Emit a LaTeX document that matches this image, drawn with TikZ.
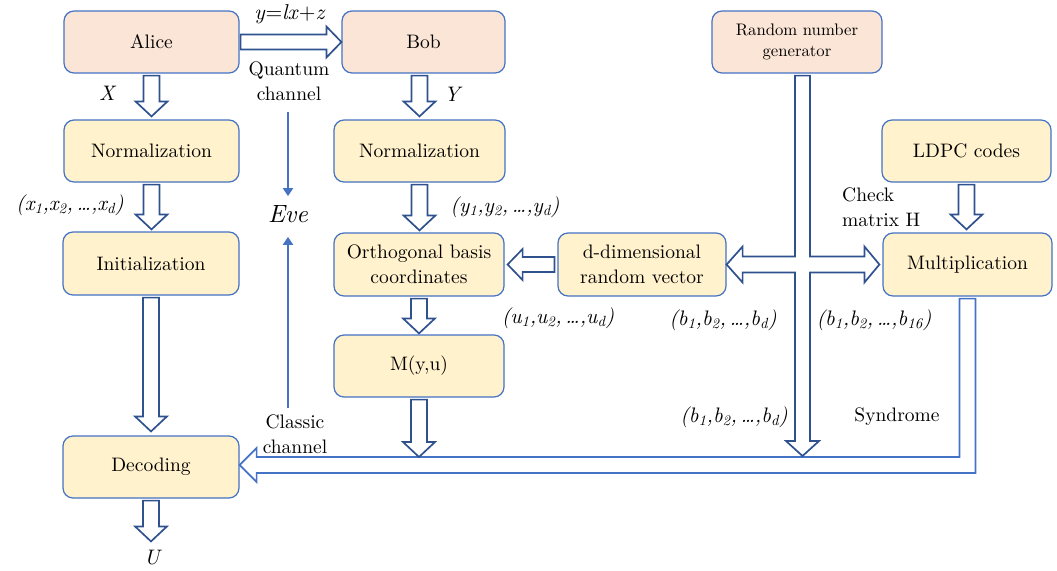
\documentclass[tikz,border=0pt]{standalone}
\usepackage{fontspec}
\setmainfont{lmroman10-regular.otf}[ItalicFont=lmroman10-italic.otf,
  BoldFont=lmroman10-bold.otf, BoldItalicFont=lmroman10-bolditalic.otf]
\usetikzlibrary{calc,arrows.meta}

\definecolor{pinkfill}{HTML}{FBE5D6}
\definecolor{creamfill}{HTML}{FFF2CC}
\definecolor{edgeblue}{HTML}{4472C4}
\definecolor{darkblue}{HTML}{2F528F}

\tikzset{
  box/.style={draw=edgeblue, line width=1.2pt, rounded corners=10pt, align=center,
              inner sep=2pt, font=\fontsize{19.5}{25}\selectfont},
  party/.style={box, fill=pinkfill},
  stage/.style={box, fill=creamfill},
  hollow/.style={draw=darkblue, line width=1.7pt, fill=white, line join=miter},
  channel/.style={draw=edgeblue, line width=1.7pt, fill=white, line join=miter},
  thinarrow/.style={draw=edgeblue, line width=2.6pt, -{Triangle[length=8pt,width=10pt]}},
  lbl/.style={font=\fontsize{19.5}{25}\selectfont, inner sep=0pt},
  mlbl/.style={font=\itshape\fontsize{21}{25}\selectfont, inner sep=0pt},
}

% hollow block arrow pointing down: shaft from #1, tip at the height of #2
\newcommand{\vhollow}[2]{%
  \draw[hollow] let \p1=#1, \p2=#2 in
    (\x1-8pt,\y1) -- (\x1+8pt,\y1) -- (\x1+8pt,\y2+15pt) -- (\x1+16pt,\y2+15pt)
    -- (\x1,\y2) -- (\x1-16pt,\y2+15pt) -- (\x1-8pt,\y2+15pt) -- cycle;}
% hollow block arrow pointing right: shaft from #1, tip at #2
\newcommand{\rhollow}[2]{%
  \draw[hollow] let \p1=#1, \p2=#2 in
    (\x1,\y1+7.5pt) -- (\x2-15pt,\y1+7.5pt) -- (\x2-15pt,\y1+15.5pt) -- (\x2,\y1)
    -- (\x2-15pt,\y1-15.5pt) -- (\x2-15pt,\y1-7.5pt) -- (\x1,\y1-7.5pt) -- cycle;}
% hollow block arrow pointing left: shaft from #1, tip at #2
\newcommand{\lhollow}[2]{%
  \draw[hollow] let \p1=#1, \p2=#2 in
    (\x1,\y1+7.5pt) -- (\x2+15pt,\y1+7.5pt) -- (\x2+15pt,\y1+15.5pt) -- (\x2,\y1)
    -- (\x2+15pt,\y1-15.5pt) -- (\x2+15pt,\y1-7.5pt) -- (\x1,\y1-7.5pt) -- cycle;}

\begin{document}
\begin{tikzpicture}[x=1pt,y=-1pt]
\useasboundingbox (0,0) rectangle (1057,570);

% ---- boxes ----
\node[party, minimum width=175pt, minimum height=62pt] (alice) at (151.5,42) {Alice};
\node[party, minimum width=163pt, minimum height=62pt] (bob) at (423.5,42) {Bob};
\node[party, minimum width=170pt, minimum height=62pt,
      font=\fontsize{16.7}{21}\selectfont] (rng) at (797,42) {Random number\\generator};
\node[stage, minimum width=175pt, minimum height=62pt] (normL) at (151.5,151) {Normalization};
\node[stage, minimum width=171pt, minimum height=62pt] (normR) at (419.5,151) {Normalization};
\node[stage, minimum width=169pt, minimum height=62pt] (ldpc) at (966.5,151) {LDPC codes};
\node[stage, minimum width=176pt, minimum height=63pt] (init) at (151,263.5) {Initialization};
\node[stage, minimum width=170pt, minimum height=63pt] (ortho) at (419,264.5) {Orthogonal basis\\coordinates};
\node[stage, minimum width=168pt, minimum height=63pt] (drv) at (642,264.5) {d-dimensional\\random vector};
\node[stage, minimum width=169pt, minimum height=63pt] (mult) at (967.5,264.5) {Multiplication};
\node[stage, minimum width=170pt, minimum height=62pt] (myu) at (419,366) {M(y,u)};
\node[stage, minimum width=176pt, minimum height=62pt] (dec) at (151,467) {Decoding};

% ---- labels ----
\node[lbl, font=\fontsize{21.5}{25}\selectfont] (eqn) at (290,14) {\textit{y}=\textit{lx}+\textit{z}};
\node[lbl, align=center] (qlabel) at (289,81) {Quantum\\channel};
\node[lbl, align=center] (clabel) at (295,434) {Classic\\channel};
\node[font=\itshape\fontsize{25}{28}\selectfont, inner sep=0pt] (eve) at (288,214) {Eve};
\node[mlbl] (xlab) at (107,93) {X};
\node[mlbl] (ylab) at (452,94) {Y};
\node[mlbl] (u) at (152,558) {U};
\node[mlbl] (xvec) at (70,205) {(x\textsubscript{1},x\textsubscript{2},\,\ldots,x\textsubscript{d})};
\node[mlbl] (yvec) at (505,207) {(y\textsubscript{1},y\textsubscript{2},\,\ldots,y\textsubscript{d})};
\node[mlbl] (uvec) at (558,318) {(u\textsubscript{1},u\textsubscript{2},\,\ldots,u\textsubscript{d})};
\node[mlbl] (bvecA) at (723,320) {(b\textsubscript{1},b\textsubscript{2},\,\ldots,b\textsubscript{d})};
\node[mlbl] (bvecB) at (874,320) {(b\textsubscript{1},b\textsubscript{2},\,\ldots,b\textsubscript{16})};
\node[mlbl] (bvecC) at (734,417) {(b\textsubscript{1},b\textsubscript{2},\,\ldots,b\textsubscript{d})};
\node[lbl] (synd) at (897,417) {Syndrome};
\node[lbl, align=left, anchor=west] (hlab) at (842,207) {Check\\matrix H};

% ---- classic channel: elbow arrow from Multiplication back to Decoding ----
\coordinate (chtop) at (0,457);
\coordinate (chbot) at (0,473);
\coordinate (chmid) at (0,465);
\draw[channel] let \p1=([yshift=-2pt]mult.south), \p2=(dec.east),
                   \p3=(chtop), \p4=(chbot), \p5=(chmid) in
  (\x1-8pt,\y1) -- (\x1+8pt,\y1) -- (\x1+8pt,\y4) -- (\x2+17pt,\y4)
  -- (\x2+17pt,\y4-9pt) -- (\x2,\y5) -- (\x2+17pt,\y3+9pt) -- (\x2+17pt,\y3)
  -- (\x1-8pt,\y3) -- cycle;

% ---- random number bus: down to the channel, branches to both sides ----
\coordinate (bus) at ([xshift=5.5pt,yshift=-2pt]rng.south);
\draw[hollow] let \p1=(bus), \p2=(drv.east), \p3=(mult.west), \p4=(chtop) in
  (\x1-7.5pt,\y1) -- (\x1+7.5pt,\y1) -- (\x1+7.5pt,\y2+8pt)
  -- (\x3-18pt,\y2+8pt) -- (\x3-18pt,\y2+18pt) -- (\x3-3pt,\y2)
  -- (\x3-18pt,\y2-18pt) -- (\x3-18pt,\y2-8pt) -- (\x1+7.5pt,\y2-8pt)
  -- (\x1+7.5pt,\y4+16pt) -- (\x1+16.5pt,\y4+16pt) -- (\x1,\y4+1pt)
  -- (\x1-16.5pt,\y4+16pt) -- (\x1-7.5pt,\y4+16pt) -- (\x1-7.5pt,\y2-8pt)
  -- (\x2+16pt,\y2-8pt) -- (\x2+16pt,\y2-18pt) -- (\x2,\y2)
  -- (\x2+16pt,\y2+18pt) -- (\x2+16pt,\y2+8pt) -- (\x1-7.5pt,\y2+8pt) -- cycle;

% ---- block arrows ----
\rhollow{([xshift=1pt]alice.east)}{(bob.west)}
\vhollow{([yshift=-2pt]alice.south)}{([yshift=3pt]normL.north)}
\vhollow{([yshift=-2pt]normL.south)}{([yshift=2pt]init.north)}
\vhollow{([yshift=-2pt]init.south)}{([yshift=4pt]dec.north)}
\vhollow{([yshift=-2pt]dec.south)}{([yshift=9pt]u.north)}
\vhollow{($(normR.north |- bob.south)+(0,2)$)}{([yshift=3pt]normR.north)}
\vhollow{([yshift=-2pt]normR.south)}{([yshift=2pt]ortho.north)}
\vhollow{([yshift=-2pt]ortho.south)}{([yshift=1pt]myu.north)}
\vhollow{([yshift=-2pt]myu.south)}{(myu.south |- chtop)}
\vhollow{([yshift=-2pt]ldpc.south)}{([yshift=3pt]mult.north)}
\lhollow{([xshift=-3pt]drv.west)}{([xshift=3pt]ortho.east)}

% ---- eavesdropper taps ----
\draw[thinarrow] ([yshift=-11pt]qlabel.south -| eve.north) -- ([yshift=9pt]eve.north);
\draw[thinarrow] ($(eve.south |- clabel.north)+(0,-6)$) -- ([yshift=-14pt]eve.south);
\end{tikzpicture}
\end{document}
